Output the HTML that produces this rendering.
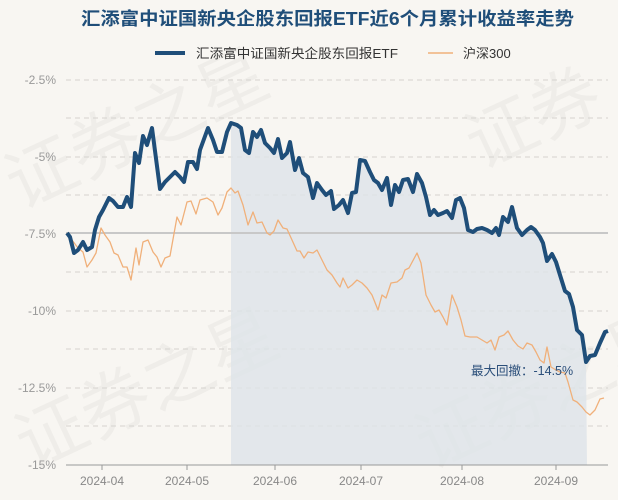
<!DOCTYPE html>
<html><head><meta charset="utf-8"><style>
html,body{margin:0;padding:0;background:#f8f6f2;}
svg{display:block;font-family:"Liberation Sans","Noto Sans CJK SC",sans-serif;}
</style></head><body>
<svg width="618" height="500" viewBox="0 0 618 500" xmlns="http://www.w3.org/2000/svg">
<rect width="618" height="500" fill="#f8f6f2"/>
<g fill="#000" fill-opacity="0.035" font-size="70" font-family="Noto Sans CJK SC,sans-serif">
<text x="20" y="210" transform="rotate(-25 20 210)">证券之星</text>
<text x="30" y="470" transform="rotate(-25 30 470)">证券之星</text>
<text x="430" y="470" transform="rotate(-25 430 470)">证券之星</text>
<text x="480" y="170" transform="rotate(-25 480 170)">证券</text>
</g>
<text x="81" y="25" font-size="18" font-weight="bold" fill="#1f4e79" textLength="493" lengthAdjust="spacingAndGlyphs">汇添富中证国新央企股东回报ETF近6个月累计收益率走势</text>
<line x1="155" y1="53" x2="185" y2="53" stroke="#1f4e79" stroke-width="4"/>
<text x="196" y="58" font-size="13" fill="#333" textLength="202" lengthAdjust="spacingAndGlyphs">汇添富中证国新央企股东回报ETF</text>
<line x1="428" y1="53" x2="453" y2="53" stroke="#f0b07a" stroke-width="1.5"/>
<text x="463" y="58" font-size="13" fill="#333">沪深300</text>
<g stroke="#d6d3ce" stroke-dasharray="5,4" stroke-width="1">
<line x1="66" y1="80" x2="608" y2="80"/><line x1="66" y1="118" x2="608" y2="118"/>
<line x1="66" y1="157" x2="608" y2="157"/><line x1="66" y1="195" x2="608" y2="195"/>
<line x1="66" y1="272" x2="608" y2="272"/><line x1="66" y1="311" x2="608" y2="311"/>
<line x1="66" y1="349" x2="608" y2="349"/><line x1="66" y1="388" x2="608" y2="388"/>
<line x1="66" y1="426" x2="608" y2="426"/>
</g>
<g font-size="12" fill="#999" text-anchor="end">
<text x="56" y="84">-2.5%</text><text x="56" y="161">-5%</text><text x="56" y="238">-7.5%</text>
<text x="56" y="315">-10%</text><text x="56" y="392">-12.5%</text><text x="56" y="469">-15%</text>
</g>
<polygon fill="#dde3e8" fill-opacity="0.8" points="231,465 231,123 237,125 241,128 245,150 249,153 253,132 257,137 261,130 265,143 270,148 274,153 278,139 282,158 287,153 290,142 295,170 299,158 303,173 308,177 313,198 317,183 322,190 326,195 331,191 334,209 339,205 343,200 348,213 352,193 356,192 360,160 365,161 370,172 374,180 378,183 382,190 387,178 391,205 395,185 399,192 403,180 408,179 413,192 417,174 422,183 426,197 430,215 434,210 438,215 443,213 447,211 452,218 456,200 460,198 464,208 468,230 473,232 477,229 482,228 487,230 492,233 496,228 499,235 503,217 508,222 512,207 517,228 522,235 527,230 531,227 535,230 540,237 543,243 547,261 552,254 556,262 560,275 565,291 569,294 573,307 577,330 582,335 586,362 587,465"/>
<line x1="66" y1="233" x2="608" y2="233" stroke="#c8c8c8" stroke-width="2"/>
<polyline fill="none" stroke="#f0b07a" stroke-width="1.3" stroke-linejoin="round" points="67,233 72,240 78,248 83,252 87,267 92,260 96,253 101,228 105,235 110,242 114,253 118,255 123,267 127,267 131,280 136,248 139,265 143,242 148,240 153,252 157,257 161,267 165,258 170,256 177,217 181,225 187,202 191,201 196,214 200,200 207,198 213,202 218,215 222,208 227,192 231,188 235,193 238,191 243,205 248,225 253,212 257,223 262,222 267,233 270,235 274,231 278,220 283,228 287,229 292,240 297,251 300,251 304,258 308,252 313,253 317,250 322,260 327,270 332,275 337,283 340,287 343,278 348,288 352,285 357,280 362,283 367,288 372,295 378,310 382,295 386,298 391,283 397,282 402,278 405,270 409,268 417,253 421,263 426,295 431,305 435,312 439,310 443,317 447,325 452,295 457,307 461,320 465,336 470,337 477,337 482,340 487,343 491,340 495,350 499,337 504,335 508,331 513,340 518,346 523,349 527,343 532,345 536,352 540,360 544,363 547,347 551,367 556,370 560,372 565,373 568,382 573,400 577,402 582,407 586,412 590,415 595,410 600,399 604,398"/>
<polyline fill="none" stroke="#1f4e79" stroke-width="4" stroke-linejoin="round" points="67,233 70,237 74,253 78,250 83,242 87,250 92,247 95,230 99,217 103,210 109,198 113,201 118,207 123,207 127,197 131,207 135,153 139,163 143,136 147,145 152,128 160,189 165,182 170,177 175,172 180,177 184,182 188,162 193,162 197,169 200,150 208,128 213,140 217,152 222,152 227,132 231,123 237,125 241,128 245,150 249,153 253,132 257,137 261,130 265,143 270,148 274,153 278,139 282,158 287,153 290,142 295,170 299,158 303,173 308,177 313,198 317,183 322,190 326,195 331,191 334,209 339,205 343,200 348,213 352,193 356,192 360,160 365,161 370,172 374,180 378,183 382,190 387,178 391,205 395,185 399,192 403,180 408,179 413,192 417,174 422,183 426,197 430,215 434,210 438,215 443,213 447,211 452,218 456,200 460,198 464,208 468,230 473,232 477,229 482,228 487,230 492,233 496,228 499,235 503,217 508,222 512,207 517,228 522,235 527,230 531,227 535,230 540,237 543,243 547,261 552,254 556,262 560,275 565,291 569,294 573,307 577,330 582,335 586,362 590,356 595,355 600,343 605,332 608,331"/>
<text x="471" y="375" font-size="12.5" fill="#2b4f7a">最大回撤：-14.5%</text>
<line x1="66" y1="465" x2="608" y2="465" stroke="#999" stroke-width="1"/>
<g stroke="#999"><line x1="102" y1="465" x2="102" y2="470"/><line x1="187" y1="465" x2="187" y2="470"/><line x1="275" y1="465" x2="275" y2="470"/><line x1="361" y1="465" x2="361" y2="470"/><line x1="462" y1="465" x2="462" y2="470"/><line x1="556" y1="465" x2="556" y2="470"/></g>
<g font-size="12" fill="#888" text-anchor="middle">
<text x="102" y="485">2024-04</text><text x="187" y="485">2024-05</text><text x="275" y="485">2024-06</text>
<text x="361" y="485">2024-07</text><text x="462" y="485">2024-08</text><text x="556" y="485">2024-09</text>
</g>
</svg>
</body></html>
